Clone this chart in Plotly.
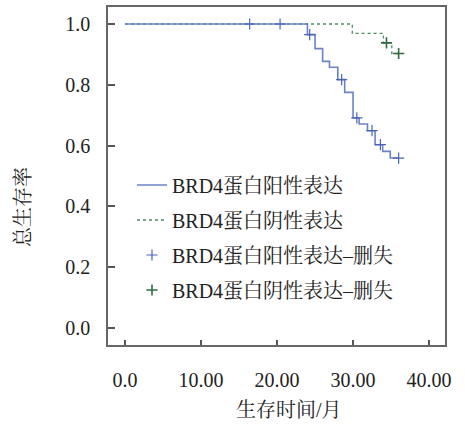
import plotly.graph_objects as go

# ---- data ----
pos_time = [0, 24.0, 25.0, 26.0, 26.9, 28.0, 28.9, 30.0, 30.8, 31.9, 32.9, 33.9, 34.9, 36.0]
pos_surv = [1.0, 0.965, 0.919, 0.877, 0.858, 0.817, 0.775, 0.691, 0.671, 0.649, 0.603, 0.581, 0.559, 0.559]
pos_cens_time = [16.4, 20.4, 24.3, 28.5, 30.5, 32.5, 33.6, 36.0]
pos_cens_surv = [1.0, 1.0, 0.965, 0.817, 0.691, 0.649, 0.603, 0.559]

neg_time = [0, 29.9, 34.0, 35.1, 36.0]
neg_surv = [1.0, 0.969, 0.938, 0.903, 0.903]
neg_cens_time = [34.4, 36.0]
neg_cens_surv = [0.938, 0.903]

names = ["BRD4蛋白阳性表达", "BRD4蛋白阴性表达", "BRD4蛋白阳性表达–删失", "BRD4蛋白阴性表达–删失"]
x_ticks = [0, 10, 20, 30, 40]
x_ticktext = ["0.0", "10.00", "20.00", "30.00", "40.00"]
y_ticks = [0, 0.2, 0.4, 0.6, 0.8, 1.0]
y_ticktext = ["0.0", "0.2", "0.4", "0.6", "0.8", "1.0"]

FONT = "Liberation Serif, Noto Serif CJK SC, Noto Sans CJK SC, serif"
BLUE = "#6b82c8"
GREEN = "#4f8a60"
BLUE_D = "#4a63b8"
GREEN_D = "#2f6b3e"

fig = go.Figure()
fig.add_trace(go.Scatter(x=neg_time, y=neg_surv, mode="lines", line=dict(color=GREEN, width=1.3, dash="dot", shape="hv"),
                         name=names[1], legend="legend2"))
fig.add_trace(go.Scatter(x=pos_time, y=pos_surv, mode="lines", line=dict(color=BLUE, width=1.6, shape="hv"),
                         name=names[0], legend="legend"))
fig.add_trace(go.Scatter(x=pos_cens_time, y=pos_cens_surv, mode="markers",
                         marker=dict(symbol="cross-thin", size=8, line=dict(color=BLUE_D, width=1.2)),
                         name=names[2], legend="legend3"))
fig.add_trace(go.Scatter(x=neg_cens_time, y=neg_cens_surv, mode="markers",
                         marker=dict(symbol="cross-thin", size=8, line=dict(color=GREEN_D, width=1.6)),
                         name=names[3], legend="legend4"))

W, H = 465, 432
L, R, T, B = 108, 20, 7, 87
pw, ph = W - L - R, H - T - B

def px2paper(xp, yp):
    return (xp - L) / pw, (H - B - yp) / ph

leg_common = dict(font=dict(family=FONT, size=20, color="#222"), bgcolor="rgba(0,0,0,0)",
                  xanchor="left", yanchor="middle", itemwidth=30)
legs = {}
for i, yp in enumerate([185, 220, 255, 290]):
    lx, ly = px2paper(132, yp)
    key = "legend" if i == 0 else f"legend{i+1}"
    legs[key] = dict(x=lx, y=ly, **leg_common)

yt_x, yt_y = px2paper(23, 207)
xt_x, xt_y = px2paper(289, 410)

fig.update_layout(
    width=W, height=H,
    margin=dict(l=L, r=R, t=T, b=B, autoexpand=False),
    paper_bgcolor="white", plot_bgcolor="white",
    font=dict(family=FONT, size=20, color="#222"),
    showlegend=True,
    **legs,
    xaxis=dict(range=[-2.24, 42.1], tickvals=x_ticks, ticktext=x_ticktext, ticks="inside", ticklen=5,
               tickcolor="#555", tickwidth=1.5, showline=True, linecolor="#666", linewidth=1.5, mirror=True,
               showgrid=False, zeroline=False, ticklabelstandoff=16, automargin=False,
               tickfont=dict(family=FONT, size=20, color="#222")),
    yaxis=dict(range=[-0.056, 1.056], tickvals=y_ticks, ticktext=y_ticktext, ticks="inside", ticklen=7,
               tickcolor="#555", tickwidth=1.5, showline=True, linecolor="#666", linewidth=1.5, mirror=True,
               showgrid=False, zeroline=False, ticklabelstandoff=12, automargin=False,
               tickfont=dict(family=FONT, size=20, color="#222")),
    annotations=[
        dict(text="总生存率", x=yt_x, y=yt_y, xref="paper", yref="paper", showarrow=False, textangle=-90,
             xanchor="center", yanchor="middle", font=dict(family=FONT, size=20, color="#222")),
        dict(text="生存时间/月", x=xt_x, y=xt_y, xref="paper", yref="paper", showarrow=False,
             xanchor="center", yanchor="middle", font=dict(family=FONT, size=20, color="#222")),
    ],
)

fig.write_html("out.html", config={"displayModeBar": False},
               post_script="document.body.style.margin='0px';")
